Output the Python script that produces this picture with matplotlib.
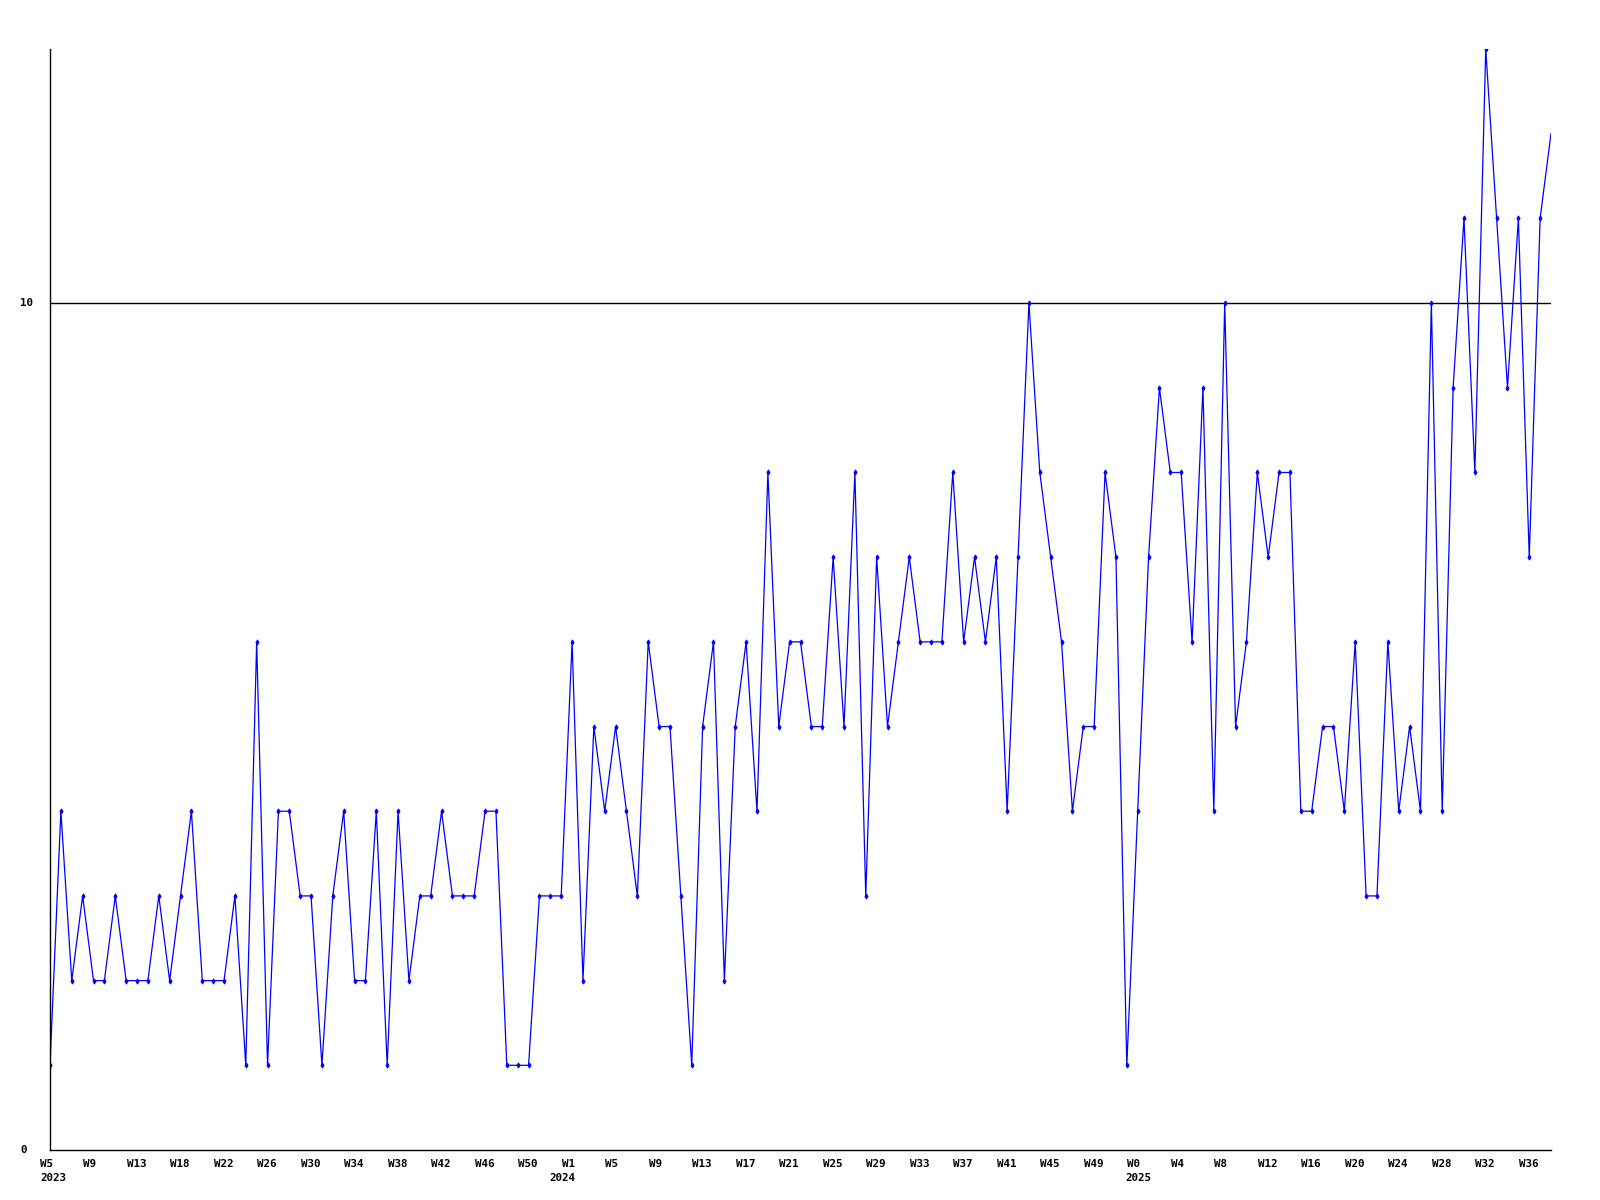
import matplotlib
matplotlib.use("Agg")
import matplotlib.pyplot as plt
import matplotlib.transforms as mtrans
from matplotlib.transforms import offset_copy

# Weekly values, W5 2023 .. W38 2025
values_2023 = [1, 4, 2, 3, 2, 2, 3, 2, 2, 2, 3, 2, 3, 4, 2, 2, 2, 3, 1, 6,
               1, 4, 4, 3, 3, 1, 3, 4, 2, 2, 4, 1, 4, 2, 3, 3, 4, 3, 3, 3,
               4, 4, 1, 1, 1, 3, 3, 3]
values_2024_25 = [6, 2, 5, 4, 5, 4, 3, 6, 5, 5, 3, 1, 5, 6, 2, 5, 6, 4, 8, 5,
                  6, 6, 5, 5, 7, 5, 8, 3, 7, 5, 6, 7, 6, 6, 6, 8, 6, 7, 6, 7,
                  4, 7, 10, 8, 7, 6, 4, 5, 5, 8, 7, 1, 4, 7, 9, 8, 8, 6, 9, 4,
                  10, 5, 6, 8, 7, 8, 8, 4, 4, 5, 5, 4, 6, 3, 3, 6, 4, 5, 4, 10,
                  4, 9, 11, 8, 13, 11, 9, 11, 7, 11, 12]
values = values_2023 + values_2024_25

tick_labels = ["W5", "W9", "W13", "W18", "W22", "W26", "W30", "W34", "W38",
               "W42", "W46", "W50", "W1", "W5", "W9", "W13", "W17", "W21",
               "W25", "W29", "W33", "W37", "W41", "W45", "W49", "W0", "W4",
               "W8", "W12", "W16", "W20", "W24", "W28", "W32", "W36"]
tick_step = 4
year_labels = ["2023", "2024", "2025"]
year_idx = [0, 48, 100]
year_dx = [-10, -23, -12]   # pixel offsets of the year texts
y_ticks = [0, 10]

W, H = 1600, 1200
fig = plt.figure(figsize=(16, 12), dpi=100)
left, right, top, bottom = 50, 1551, 49, 1150
ax = fig.add_axes([left / W, (H - bottom) / H, (right - left) / W, (bottom - top) / H])

x = list(range(len(values)))
ax.plot(x, values, color="#0000ff", linewidth=0.9, marker="d", markersize=2.6,
        markeredgewidth=0.7, markevery=list(range(len(values) - 1)), clip_on=True)
ax.axhline(10, color="black", linewidth=1.0, zorder=1)

ax.set_xlim(0, len(values) - 1)
ax.set_ylim(0, 13)
for s in ["top", "right"]:
    ax.spines[s].set_visible(False)
for s in ["left", "bottom"]:
    ax.spines[s].set_color("black")
    ax.spines[s].set_linewidth(1.0)
ax.set_xticks([])
ax.set_yticks([])

font = dict(family="DejaVu Sans Mono", fontweight="bold", fontsize=7.8, color="black")

blend = mtrans.blended_transform_factory(ax.transData, fig.transFigure)
for i, lab in enumerate(tick_labels):
    xi = i * tick_step
    t = offset_copy(blend, fig=fig, x=-10.5 * 0.72, y=0, units="points")
    fig.text(xi, (H - 1159) / H, lab, transform=t, ha="left", va="top", **font)

for lab, xi, dx in zip(year_labels, year_idx, year_dx):
    t = offset_copy(blend, fig=fig, x=dx * 0.72, y=0, units="points")
    fig.text(xi, (H - 1173) / H, lab, transform=t, ha="left", va="top", **font)

blend_y = mtrans.blended_transform_factory(fig.transFigure, ax.transData)
for v in y_ticks:
    fig.text(20 / W, v, str(v), transform=blend_y, ha="left", va="center", **font)

fig.savefig("out.png", dpi=100, facecolor="white")
